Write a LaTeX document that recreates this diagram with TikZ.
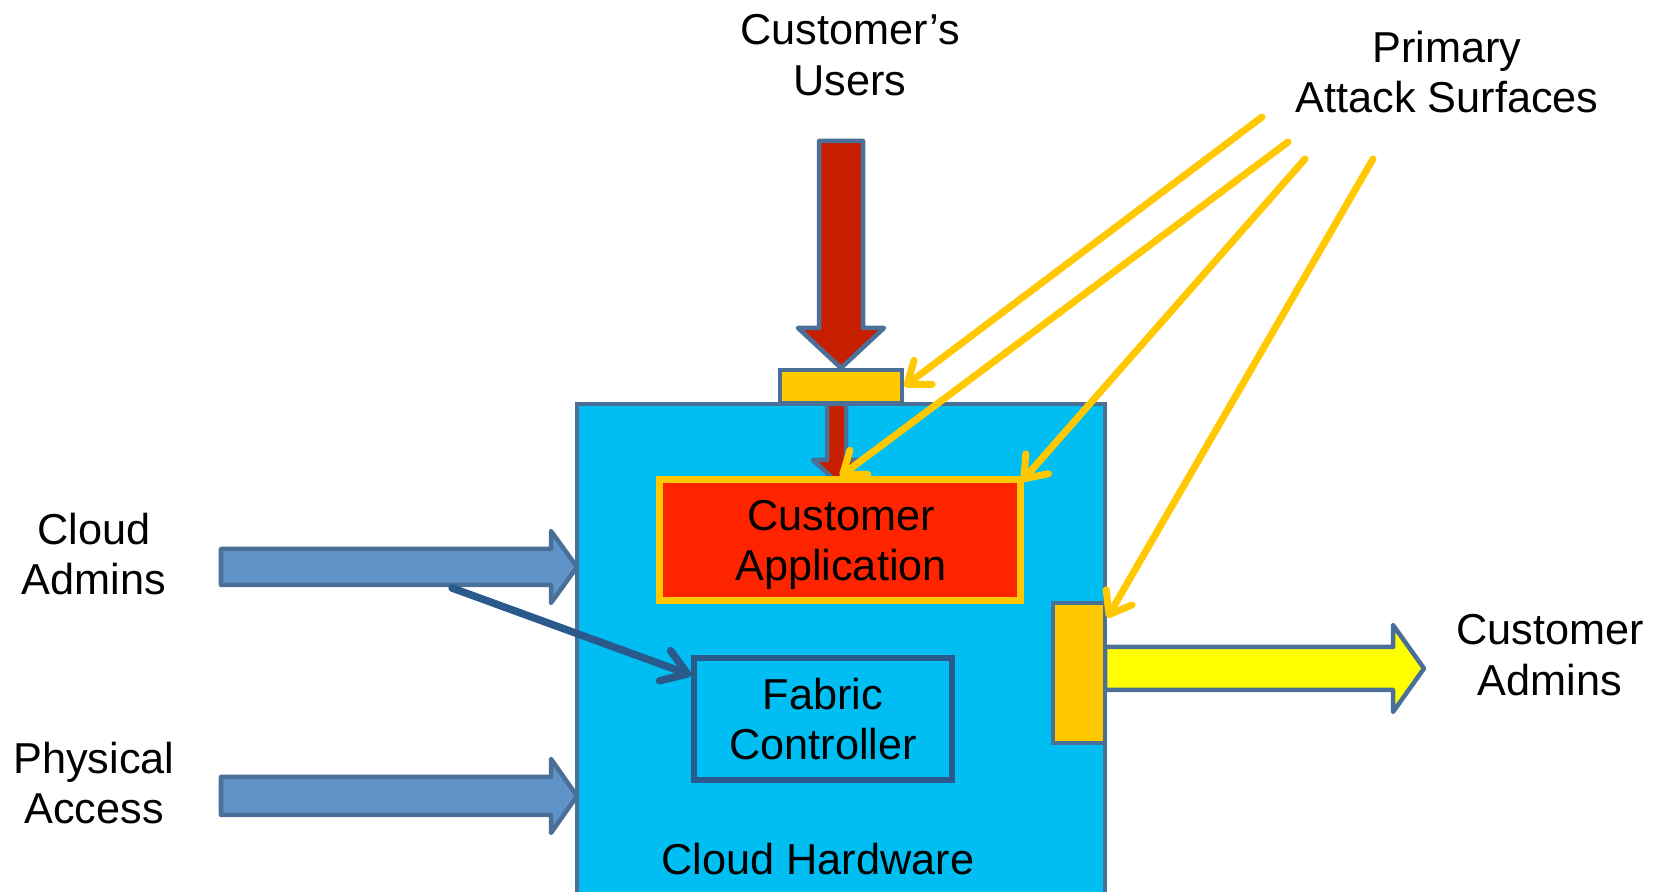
\documentclass[tikz,border=0pt]{standalone}
\usepackage{fontspec}
\setmainfont{Liberation Sans}
\usetikzlibrary{arrows.meta}
\definecolor{hwblue}{HTML}{00BEF2}
\definecolor{edgeblue}{HTML}{4A7099}
\definecolor{adminblue}{HTML}{6094C8}
\definecolor{navy}{HTML}{2A5A8C}
\definecolor{userred}{HTML}{C81E00}
\definecolor{appred}{HTML}{FF2400}
\definecolor{gold}{HTML}{FFC800}
\definecolor{brightyellow}{HTML}{FFFF00}
\begin{document}
\begin{tikzpicture}[x=0.01cm,y=-0.01cm,
  lbl/.style={align=center,font=\fontsize{12.3}{14.3}\selectfont,inner sep=0pt},
  box/.style={rectangle,inner sep=0pt,line join=miter},
  blockarrow/.style={draw=edgeblue,line width=0.045cm,line join=round},
  surface/.style={draw=gold,line width=0.07cm,line cap=round,
    -{Straight Barb[round,length=0.2cm,width=0.3cm]}},
  control/.style={draw=navy,line width=0.075cm,line cap=round,
    -{Straight Barb[round,length=0.24cm,width=0.32cm]}}]
\clip (0,0) rectangle (1665,892);

% cloud hardware enclosure (runs off the bottom edge)
\node[box,draw=edgeblue,fill=hwblue,line width=0.045cm,
  minimum width=5.28cm,minimum height=5.06cm] (hw) at (841,657) {};
\node[lbl,anchor=base] (hwlbl) at (818,875) {Cloud Hardware};

% inbound block arrows on the left
\draw[blockarrow,fill=adminblue] (221,549) -- (551,549) -- (551,531) -- (577,567)
  -- (551,603) -- (551,585) -- (221,585) -- cycle;
\draw[blockarrow,fill=adminblue] (221,777) -- (551,777) -- (551,759) -- (577,796)
  -- (551,833) -- (551,815) -- (221,815) -- cycle;
\node[lbl] (cadm) at (94,554) {Cloud\\Admins};
\node[lbl] (phys) at (94,783) {Physical\\Access};

% customer users entering from the top
\node[lbl] (users) at (850,55) {Customer’s\\Users};
\draw[blockarrow,fill=userred] (819,141) -- (863,141) -- (863,328) -- (884,328)
  -- (841,368) -- (798,328) -- (819,328) -- cycle;
\node[box,draw=edgeblue,fill=gold,line width=0.045cm,
  minimum width=1.22cm,minimum height=0.33cm] (top) at (841,386.5) {};
\draw[blockarrow,fill=userred] (827,404) -- (846,404) -- (846,460) -- (860,460)
  -- (836.5,482) -- (813,460) -- (827,460) -- cycle;

% application and fabric controller
\node[box,draw=gold,fill=appred,line width=0.07cm,
  minimum width=3.6cm,minimum height=1.2cm] (app) at (840,540) {};
\node[lbl] (applbl) at (841,545) {Customer\\Application};
\node[box,draw=navy,fill=hwblue,line width=0.055cm,
  minimum width=2.58cm,minimum height=1.22cm] (fab) at (823,719) {};
\node[lbl] (fablbl) at (823,719) {Fabric\\Controller};
\coordinate (ctlstart) at (452,588);
\draw[control] (ctlstart) -- ([yshift=-0.2cm]fab.north west);

% customer admin exit on the right
\draw[blockarrow,fill=brightyellow] (1105,647) -- (1393,647) -- (1393,625) -- (1424,668.5)
  -- (1393,712) -- (1393,690) -- (1105,690) -- cycle;
\node[box,draw=edgeblue,fill=gold,line width=0.045cm,
  minimum width=0.52cm,minimum height=1.4cm] (side) at (1079,673) {};
\node[lbl] (custadm) at (1550,655) {Customer\\Admins};

% attack surface pointers
\node[lbl] (attack) at (1447,72) {Primary\\Attack Surfaces};
\coordinate (s1) at (1262,117);
\coordinate (s2) at (1288,142);
\coordinate (s3) at (1305,159);
\coordinate (s4) at (1373,159);
\draw[surface] (s1) -- (top.east);
\draw[surface] (s2) -- (app.north);
\draw[surface] (s3) -- ([xshift=-0.02cm,yshift=-0.05cm]app.north east);
\draw[surface] (s4) -- ([yshift=-0.17cm]side.north east);
\end{tikzpicture}
\end{document}
